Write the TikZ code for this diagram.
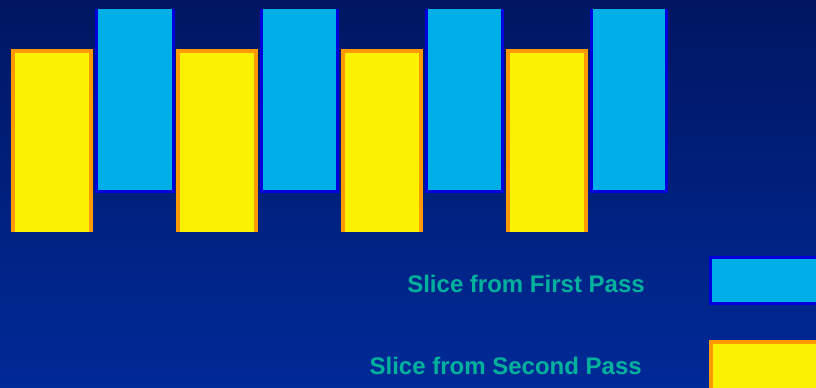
\documentclass[tikz,border=0pt]{standalone}
\usepackage{fontspec}
\setmainfont{Liberation Sans}
\usetikzlibrary{positioning}

\begin{document}
\begin{tikzpicture}[x=0.75pt,y=0.75pt,yscale=-1,xscale=1,
	firstpass/.style={fill={rgb, 255:red, 0; green, 174; blue, 232 }, draw={rgb, 255:red, 0; green, 0; blue, 220 }, line width=2.25},
	secondpass/.style={fill={rgb, 255:red, 250; green, 242; blue, 0 }, draw={rgb, 255:red, 255; green, 153; blue, 0 }, line width=3},
	legendtext/.style={anchor=east, inner sep=0pt, color={rgb, 255:red, 0; green, 178; blue, 158 }, font=\fontsize{18}{21}\selectfont\bfseries}]
	%set diagram size: 816 x 387
	\useasboundingbox (0,0) rectangle (816,387);
	%Shape: Background
	\shade [top color={rgb, 255:red, 0; green, 22; blue, 98 }, bottom color={rgb, 255:red, 0; green, 42; blue, 152 }] (0,0) rectangle (816,387);
	\clip (0,0) rectangle (816,387);
	
	%Shape: Open Rectangle [second pass slices]
	\filldraw [secondpass] (13,232) -- (13,51) -- (91,51) -- (91,232);
	\filldraw [secondpass] (178,232) -- (178,51) -- (256,51) -- (256,232);
	\filldraw [secondpass] (343,232) -- (343,51) -- (421,51) -- (421,232);
	\filldraw [secondpass] (508,232) -- (508,51) -- (586,51) -- (586,232);
	%Shape: Open Rectangle [first pass slices]
	\filldraw [firstpass] (96.5,9) -- (96.5,191.5) -- (173.5,191.5) -- (173.5,9);
	\filldraw [firstpass] (261.5,9) -- (261.5,191.5) -- (337.5,191.5) -- (337.5,9);
	\filldraw [firstpass] (426.5,9) -- (426.5,191.5) -- (502.5,191.5) -- (502.5,9);
	\filldraw [firstpass] (591.5,9) -- (591.5,191.5) -- (666.5,191.5) -- (666.5,9);
	
	%Shape: Rectangle [legend]
	\draw [firstpass] (710.5,257.5) rectangle (850,303.5);
	\draw [secondpass] (711,342) rectangle (850,400);
	
	% Text Node
	\node [legendtext] (first) at (645,284) {Slice from First Pass};
	% Text Node
	\node [legendtext] (second) at (642,366) {Slice from Second Pass};
\end{tikzpicture}
\end{document}
